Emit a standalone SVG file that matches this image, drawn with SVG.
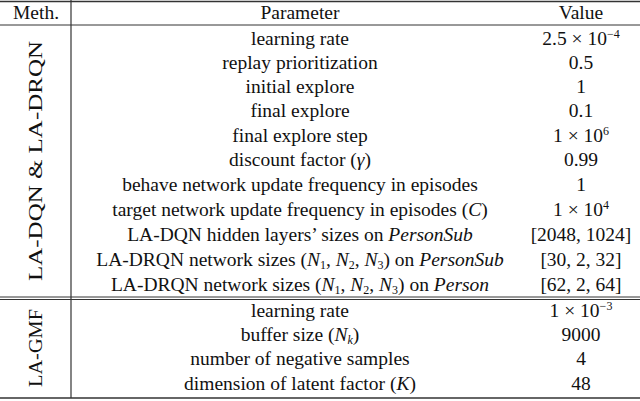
<svg xmlns="http://www.w3.org/2000/svg" width="640" height="401" viewBox="0 0 640 401" font-family="'Liberation Serif', 'DejaVu Serif', serif">
<style>
text{font-family:'Liberation Serif',serif;font-size:19.5px;fill:#111;text-anchor:middle}
.l{stroke:#333;fill:none}
.s{font-size:12px}
</style>
<rect width="640" height="401" fill="#fff"/>
<g id="lines">
<line class="l" x1="0" y1="1.5" x2="640" y2="1.5" stroke-width="1.5"/>
<line class="l" x1="0" y1="25" x2="640" y2="25" stroke-width="1"/>
<line class="l" x1="71" y1="0" x2="71" y2="398" stroke-width="1.2"/>
<line class="l" x1="0" y1="297" x2="640" y2="297" stroke-width="1"/>
<line class="l" x1="0" y1="299.5" x2="640" y2="299.5" stroke-width="1"/>
<line class="l" x1="0" y1="398" x2="640" y2="398" stroke-width="1.5"/>
</g>
<g id="header">
<text x="36" y="19">Meth.</text>
<text x="300" y="19">Parameter</text>
<text x="581" y="19">Value</text>
</g>
<g id="meth">
<text transform="translate(42,161) rotate(-90)" textLength="240" lengthAdjust="spacingAndGlyphs">LA-DQN &amp; LA-DRQN</text>
<text transform="translate(42,348) rotate(-90)" textLength="78" lengthAdjust="spacingAndGlyphs">LA-GMF</text>
</g>
<g id="params">
<text x="300" y="45">learning rate</text>
<text x="300" y="69">replay prioritization</text>
<text x="300" y="93">initial explore</text>
<text x="300" y="117">final explore</text>
<text x="300" y="142">final explore step</text>
<text x="300" y="166">discount factor (<tspan font-style="italic">γ</tspan>)</text>
<text x="300" y="191">behave network update frequency in episodes</text>
<text x="300" y="216">target network update frequency in episodes (<tspan font-style="italic">C</tspan>)</text>
<text x="300" y="241">LA-DQN hidden layers’ sizes on <tspan font-style="italic">PersonSub</tspan></text>
<text x="300" y="266">LA-DRQN network sizes (<tspan font-style="italic">N</tspan><tspan class="s" dy="3">1</tspan><tspan dy="-3">, </tspan><tspan font-style="italic">N</tspan><tspan class="s" dy="3">2</tspan><tspan dy="-3">, </tspan><tspan font-style="italic">N</tspan><tspan class="s" dy="3">3</tspan><tspan dy="-3">) on </tspan><tspan font-style="italic">PersonSub</tspan></text>
<text x="300" y="291">LA-DRQN network sizes (<tspan font-style="italic">N</tspan><tspan class="s" dy="3">1</tspan><tspan dy="-3">, </tspan><tspan font-style="italic">N</tspan><tspan class="s" dy="3">2</tspan><tspan dy="-3">, </tspan><tspan font-style="italic">N</tspan><tspan class="s" dy="3">3</tspan><tspan dy="-3">) on </tspan><tspan font-style="italic">Person</tspan></text>
<text x="300" y="317">learning rate</text>
<text x="300" y="341">buffer size (<tspan font-style="italic">N</tspan><tspan class="s" font-style="italic" dy="3">k</tspan><tspan dy="-3">)</tspan></text>
<text x="300" y="365">number of negative samples</text>
<text x="300" y="390">dimension of latent factor (<tspan font-style="italic">K</tspan>)</text>
</g>
<g id="values">
<text x="581" y="45">2.5 × 10<tspan class="s" dy="-7">−4</tspan></text>
<text x="581" y="69">0.5</text>
<text x="581" y="93">1</text>
<text x="581" y="117">0.1</text>
<text x="581" y="142">1 × 10<tspan class="s" dy="-7">6</tspan></text>
<text x="581" y="166">0.99</text>
<text x="581" y="191">1</text>
<text x="581" y="216">1 × 10<tspan class="s" dy="-7">4</tspan></text>
<text x="581" y="241">[2048, 1024]</text>
<text x="581" y="266">[30, 2, 32]</text>
<text x="581" y="291">[62, 2, 64]</text>
<text x="581" y="317">1 × 10<tspan class="s" dy="-7">−3</tspan></text>
<text x="581" y="341">9000</text>
<text x="581" y="365">4</text>
<text x="581" y="390">48</text>
</g>
</svg>
